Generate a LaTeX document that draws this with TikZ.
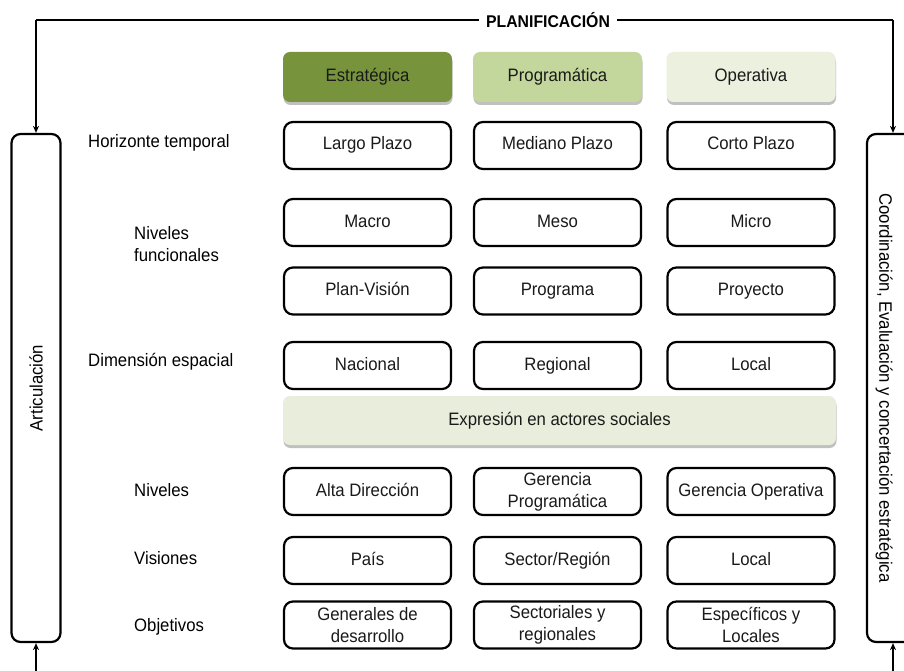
\documentclass[tikz,border=0pt]{standalone}
\usepackage{fontspec}
\setmainfont{Liberation Sans}[FakeStretch=0.93]
\usetikzlibrary{shadows,arrows.meta}
\definecolor{gA}{HTML}{77933C}
\definecolor{gB}{HTML}{C3D69B}
\definecolor{gC}{HTML}{EBF1DE}
\definecolor{gE}{HTML}{E9EDDC}
\definecolor{txt}{HTML}{1A1A1A}
\begin{document}
\begin{tikzpicture}[x=1pt,y=-1pt,
  fnt/.style={font=\fontsize{18}{22}\selectfont},
  cellbase/.style={fnt, draw=black, line width=2.2pt, rounded corners=9pt, fill=white,
    minimum width=167pt, minimum height=47pt, inner sep=0pt, text=txt},
  cell/.style={cellbase, text height=13pt, text depth=4pt},
  cellii/.style={cellbase, align=center},
  head/.style={fnt, rounded corners=7pt, minimum width=169pt, minimum height=50pt,
    inner sep=0pt, text=txt, text height=13pt, text depth=4pt,
    drop shadow={shadow xshift=0.5pt, shadow yshift=-3pt, opacity=0.35, fill=black!70}},
  lab/.style={fnt, anchor=west, align=left, inner sep=0pt},
  bar/.style={draw=black, line width=2.2pt, rounded corners=9pt, minimum width=49pt, minimum height=508pt, inner sep=0pt},
  arr/.style={line width=1.6pt, -{Stealth[length=7pt,width=6pt]}}]
\clip (0,0) rectangle (904,671);
\useasboundingbox (0,0) rectangle (904,671);
\fill[white] (0,0) rectangle (904,671);

% headers
\node[head, fill=gA] (hA) at (367.5,77) {Estratégica};
\node[head, fill=gB] (hB) at (557.5,77) {Programática};
\node[head, fill=gC] (hC) at (751,77) {Operativa};

% rows
\node[cell] (a1) at (367.5,145.5) {Largo Plazo};
\node[cell] (b1) at (557.5,145.5) {Mediano Plazo};
\node[cell] (c1) at (751,145.5) {Corto Plazo};

\node[cell] (a2) at (367.5,222.5) {Macro};
\node[cell] (b2) at (557.5,222.5) {Meso};
\node[cell] (c2) at (751,222.5) {Micro};

\node[cell] (a3) at (367.5,291) {Plan-Visión};
\node[cell] (b3) at (557.5,291) {Programa};
\node[cell] (c3) at (751,291) {Proyecto};

\node[cell] (a4) at (367.5,365.5) {Nacional};
\node[cell] (b4) at (557.5,365.5) {Regional};
\node[cell] (c4) at (751,365.5) {Local};

\node[head, fill=gE, minimum width=553pt, minimum height=49pt] (ex) at (559.5,420.5) {Expresión en actores sociales};

\node[cell] (a5) at (367.5,491.5) {Alta Dirección};
\node[cellii] (b5) at (557.5,491.5) {Gerencia\\Programática};
\node[cell] (c5) at (751,491.5) {Gerencia Operativa};

\node[cell] (a6) at (367.5,560.5) {País};
\node[cell] (b6) at (557.5,560.5) {Sector/Región};
\node[cell] (c6) at (751,560.5) {Local};

\node[cellii] (a7) at (367.5,625) {Generales de\\desarrollo};
\node[cellii] (b7) at (557.5,625) {Sectoriales y\\regionales};
\node[cellii] (c7) at (751,625) {Específicos y\\Locales};

% left labels
\node[lab] (l1) at (88,143) {Horizonte temporal};
\node[lab] (l2) at (134,244) {Niveles\\funcionales};
\node[lab] (l3) at (88,362) {Dimensión espacial};
\node[lab] (l4) at (134,490) {Niveles};
\node[lab] (l5) at (134,558) {Visiones};
\node[lab] (l6) at (134,627) {Objetivos};

% side bars
\node[bar] (art) at (36,388) {};
\node[fnt, rotate=90, inner sep=0pt] (artT) at (art.center) {Articulación};
\node[bar, minimum width=52pt] (coo) at (893,388) {};
\node[fnt, rotate=-90, inner sep=0pt] (cooT) at (884,388) {Coordinación, Evaluación y concertación estratégica};

% top connector
\coordinate (tl) at (36,20);
\coordinate (tr) at (893,20);
\coordinate (bl) at (36,671);
\coordinate (br) at (893,671);
\draw[line width=2pt] (tl) -- (tr);
\node[font=\fontsize{17}{20}\selectfont\bfseries, fill=white, inner xsep=7pt, inner ysep=2pt] (plan) at (548,20) {PLANIFICACIÓN};
\draw[arr] (tl) -- (art.north);
\draw[arr] (tr) -- (coo.north);
\draw[arr] (bl) -- (art.south);
\draw[arr] (br) -- (coo.south);
\end{tikzpicture}
\end{document}
